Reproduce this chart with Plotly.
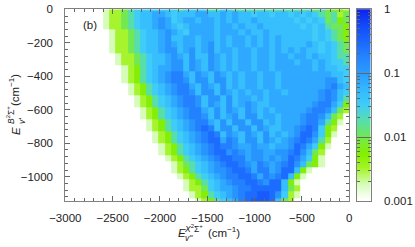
import plotly.graph_objects as go

W, H = 415, 247
L, R, T, B = 65.3, 349.3, 9.3, 201.0

X_TICKS = [-3000, -2500, -2000, -1500, -1000, -500, 0]
Y_TICKS = [0, -200, -400, -600, -800, -1000]
CB_TICKS = [-3, -2, -1, 0]
CB_LABELS = ["0.001", "0.01", "0.1", "1"]
CB_MINOR = [-2.699, -2.523, -2.398, -2.301, -2.222, -2.155, -2.097, -2.046,
            -1.699, -1.523, -1.398, -1.301, -1.222, -1.155, -1.097, -1.046,
            -0.699, -0.523, -0.398, -0.301, -0.222, -0.155, -0.097, -0.046]

LEVEL_LOG10 = {"1": -2.75, "2": -2.5, "3": -2.25, "4": -2.0, "5": -1.75, "6": -1.5,
               "7": -1.33, "8": -1.12, "9": -0.93, "a": -0.72, "b": -0.55, "c": -0.4}
ROWS = [
    "1224566666 6656666556 6555555555 5555454332",
    "1224567788 7677788778 7877677677 6767654524",
    "1224567789 8678878878 7877877777 7676764534",
    "1224567789 8767888878 8787787777 7767675443",
    ".122456778 9876888878 8878778777 7777676543",
    ".122456778 9778878878 7887878787 7777676543",
    ".122456778 9878878978 7887878787 7778767654",
    ".122456778 9978978978 8788788787 8787767654",
    "..12245677 8987977987 8788788788 7887877655",
    "..12245677 8997987987 8788788788 8788787665",
    "...1235678 8997987987 8788788788 8888787766",
    "...1235678 9aa8798798 7878878878 8888888776",
    "...1235678 9aa9799799 7878878878 8888889976",
    "....123567 89aa879879 7878878878 8888889a87",
    "....123567 89aa979979 8787887887 888889a976",
    ".....12356 789aa97997 9788787888 888889a975",
    ".....12356 789aa97987 9789877888 88889aa863",
    "......1235 6789aa8797 9879878788 8889aa9742",
    "......1235 6789aa9797 8979978878 889aa9742.",
    ".......123 56789aa879 7997997878 889aa8531.",
    ".......123 56789aba79 9799798778 89aba632..",
    "........12 356789aba7 9879879787 89bb9631..",
    "........12 356789abb8 a979979878 9aba852...",
    ".........1 2356789aba a988988788 9ba8631...",
    ".........1 2356789abb 9a98998899 ab9742....",
    ".......... 1235678 9ab baa8998989 ba8631....",
    ".......... .12456789a bba98a989a b97431....",
    ".......... .123567899 abba8aa89b b731......",
    ".......... ..12356789 aabba8a9ab 731.......",
    ".......... ...1235678 9aabba9bb7 31........",
    ".......... ...1224678 89aabbbbb7 42........",
    ".......... ....123567 89abbccb96 21........",
    ".......... .....12356 78abcccb74 2.........",
]
FIRST_ROW_HEIGHT = 10
ROW_HEIGHT = 36
COL_WIDTH = 65

COLORSCALE = [
    [0.00, "#ffffff"], [0.08, "#d8fcc0"], [0.17, "#a4f428"], [0.24, "#84f000"],
    [0.30, "#7cec30"], [0.36, "#68e470"], [0.43, "#54dcb8"], [0.50, "#40ccf8"],
    [0.58, "#34b8ff"], [0.667, "#2a9cff"], [0.75, "#2484ff"], [0.83, "#1a68ff"],
    [0.92, "#1248f8"], [1.00, "#0c24ec"],
]

z = []
for row in ROWS:
    cells = row.replace(" ", "")
    z.append([LEVEL_LOG10.get(c) for c in cells])
n_cols = 40
x_edges = [-COL_WIDTH * (n_cols - i) for i in range(n_cols + 1)]
y_edges = [0] + [-FIRST_ROW_HEIGHT - ROW_HEIGHT * i for i in range(len(ROWS))]

bar_levels = [i / 100 - 3 for i in range(301)]
bar_edges = [i / 100 - 3.005 for i in range(302)]

fig = go.Figure()
fig.add_trace(go.Heatmap(x=x_edges, y=y_edges, z=z, coloraxis="coloraxis",
                         hoverongaps=False, xgap=0, ygap=0))
fig.add_trace(go.Heatmap(x=[0, 1], y=bar_edges, z=[[v] for v in bar_levels],
                         coloraxis="coloraxis", xaxis="x2", yaxis="y2"))

FONT = dict(family="Liberation Sans", size=11.5, color="#222222")
AXC = "#808080"
TICKC = "#666666"
axis_common = dict(showgrid=False, zeroline=False, showline=True, linecolor=AXC, linewidth=1,
                   mirror="ticks", ticks="inside", tickcolor=TICKC, ticklen=5, tickwidth=1,
                   tickfont=FONT)

fig.update_layout(
    width=W, height=H, margin=dict(l=0, r=0, t=0, b=0, autoexpand=False),
    paper_bgcolor="white", plot_bgcolor="white", showlegend=False, font=FONT,
    coloraxis=dict(colorscale=COLORSCALE, cmin=-3, cmax=0, showscale=False),
    xaxis=dict(domain=[L / W, R / W], range=[-3000, 0], tickvals=X_TICKS,
               ticklabelstandoff=6,
               minor=dict(dtick=100, tick0=0, ticks="inside", ticklen=3, tickcolor=TICKC),
               **axis_common),
    yaxis=dict(domain=[1 - B / H, 1 - T / H], range=[-1145, 0], tickvals=Y_TICKS,
               ticklabelstandoff=9,
               minor=dict(dtick=40, tick0=0, ticks="inside", ticklen=3, tickcolor=TICKC),
               **axis_common),
    xaxis2=dict(domain=[356.7 / W, 370.7 / W], range=[0, 1], anchor="y2",
                showticklabels=False, ticks="", showgrid=False, zeroline=False,
                showline=True, linecolor=AXC, mirror=True),
    yaxis2=dict(domain=[1 - B / H, 1 - T / H], range=[-3, 0], anchor="x2", side="right",
                tickvals=CB_TICKS, ticktext=CB_LABELS, ticklabelstandoff=10,
                minor=dict(tickvals=CB_MINOR, ticks="inside", ticklen=3, tickcolor=TICKC),
                showgrid=False, zeroline=False, showline=True, linecolor=AXC, linewidth=1,
                mirror="ticks", ticks="inside", tickcolor=TICKC, ticklen=14, tickwidth=1,
                tickfont=FONT),
)


def note(text, x, y, size=11.5, angle=0, xanchor="left"):
    fig.add_annotation(text=text, x=x / W, y=1 - y / H, xref="paper", yref="paper",
                       showarrow=False, xanchor=xanchor, yanchor="middle", textangle=angle,
                       font=dict(family="Liberation Sans", size=size, color="#222222"))


note("(b)", 81, 25)
note("<i>E</i>", 175.5, 233)
note("<i>X</i><sup>2</sup>Σ<sup>+</sup>", 182, 228, size=8.5)
note("<i>v''</i>", 183, 238, size=8.5)
note("(cm<sup>−1</sup>)", 206, 232)
note("<i>E</i>", 16, 131, angle=-90, xanchor="center")
note("<i>B</i><sup>2</sup>Σ<sup>+</sup>", 10, 115, size=8.5, angle=-90, xanchor="center")
note("<i>v'</i>", 22, 121, size=8.5, angle=-90, xanchor="center")
note("(cm<sup>−1</sup>)", 14, 90, angle=-90, xanchor="center")

fig.write_html(
    "out.html",
    config={"displayModeBar": False},
    post_script="document.body.style.margin='0';document.body.style.overflow='hidden';"
                "document.querySelectorAll('.hm image').forEach(function(e){e.style.filter='blur(0.6px)';});",
)
